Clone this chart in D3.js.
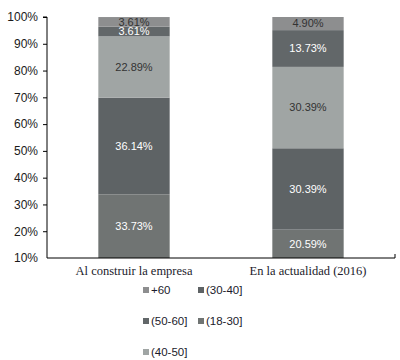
<!DOCTYPE html>
<html>
<head>
<meta charset="utf-8">
<script src="https://cdn.jsdelivr.net/npm/d3@7"></script>
<style>
  body { margin: 0; background: #fff; }
  .tick text { font-family: "Liberation Sans", Arial, sans-serif; font-size: 12px; fill: #1a1a1a; }
  .cat-label { font-family: "Liberation Serif", serif; font-size: 12.5px; fill: #1b1b2b; }
  .val-label { font-family: "Liberation Sans", Arial, sans-serif; font-size: 11px; }
  .legend-text { font-family: "Liberation Sans", Arial, sans-serif; font-size: 11.5px; fill: #1b1b2b; }
</style>
</head>
<body>
<svg id="chart"></svg>
<script>
// categorías y series (de abajo hacia arriba)
const categories = ['Al construir la empresa', 'En la actualidad (2016)'];
const seriesNames = ['(18-30]', '(30-40]', '(40-50]', '(50-60]', '+60'];
const seriesColors = ['#707473', '#5e6365', '#a0a5a4', '#626769', '#8d8e8f'];
const labelColors = ['#fff', '#fff', '#333', '#fff', '#333'];
const values = {
    '(18-30]': [33.73, 20.59],
    '(30-40]': [36.14, 30.39],
    '(40-50]': [22.89, 30.39],
    '(50-60]': [3.61, 13.73],
    '+60': [3.61, 4.90]
};
const yTicks = [10, 20, 30, 40, 50, 60, 70, 80, 90, 100];
// orden de la leyenda
const legendOrder = ['+60', '(30-40]', '(50-60]', '(18-30]', '(40-50]'];

const width = 400, height = 360;
const margin = {top: 17, right: 5, bottom: 102, left: 47};
const innerW = width - margin.left - margin.right;
const innerH = height - margin.top - margin.bottom;

const svg = d3.select('#chart').attr('width', width).attr('height', height);
const g = svg.append('g').attr('transform', `translate(${margin.left},${margin.top})`);

const x = d3.scaleBand().domain(categories).range([0, innerW]).paddingInner(0.59).paddingOuter(0.295);
const y = d3.scaleLinear().domain([10, 100]).range([innerH, 0]);

// apilar datos
const rows = categories.map((c, i) => {
    const r = {cat: c};
    seriesNames.forEach(s => r[s] = values[s][i]);
    return r;
});
const stack = d3.stack().keys(seriesNames)(rows);

svg.append('defs').append('clipPath').attr('id', 'clip')
    .append('rect').attr('width', innerW).attr('height', innerH);

const layers = g.append('g').attr('clip-path', 'url(#clip)')
    .selectAll('g.layer')
    .data(stack)
    .join('g')
    .attr('class', 'layer')
    .attr('fill', (d, i) => seriesColors[i]);

layers.selectAll('rect')
    .data(d => d)
    .join('rect')
    .attr('x', d => x(d.data.cat))
    .attr('width', x.bandwidth())
    .attr('y', d => y(d[1]))
    .attr('height', d => y(d[0]) - y(d[1]));

// etiquetas de valor
stack.forEach((layer, li) => {
    g.selectAll(null)
        .data(layer)
        .join('text')
        .attr('class', 'val-label')
        .attr('x', d => x(d.data.cat) + x.bandwidth() / 2)
        .attr('y', d => y((Math.max(d[0], 10) + d[1]) / 2))
        .attr('dy', '0.35em')
        .attr('text-anchor', 'middle')
        .attr('fill', labelColors[li])
        .text(d => (d[1] - d[0]).toFixed(2) + '%');
});

// ejes
const yAxis = g.append('g')
    .call(d3.axisLeft(y).tickValues(yTicks).tickFormat(d => d + '%').tickSize(4).tickPadding(5));
yAxis.select('.domain').attr('stroke', '#000').attr('d', `M-4,0H0V${innerH}`);
yAxis.selectAll('.tick line').attr('stroke', '#000');
yAxis.selectAll('.tick').filter(d => d === 10).select('line').remove();

g.append('path')
    .attr('d', `M0,${innerH}H${innerW}V${innerH - 4}`)
    .attr('fill', 'none')
    .attr('stroke', '#000');

g.selectAll('.cat-label')
    .data(categories)
    .join('text')
    .attr('class', 'cat-label')
    .attr('x', d => x(d) + x.bandwidth() / 2)
    .attr('y', innerH + 17)
    .attr('text-anchor', 'middle')
    .text(d => d);

// leyenda
const legendPos = [[143, 290], [198, 290], [143, 321], [198, 321], [143, 352]];
const legend = svg.selectAll('.legend')
    .data(legendOrder)
    .join('g')
    .attr('class', 'legend')
    .attr('transform', (d, i) => `translate(${legendPos[i][0]},${legendPos[i][1]})`);
legend.append('rect')
    .attr('x', 0).attr('y', -3).attr('width', 6).attr('height', 6)
    .attr('fill', d => seriesColors[seriesNames.indexOf(d)]);
legend.append('text')
    .attr('class', 'legend-text')
    .attr('x', 8)
    .attr('dy', '0.35em')
    .text(d => d);
</script>
</body>
</html>
